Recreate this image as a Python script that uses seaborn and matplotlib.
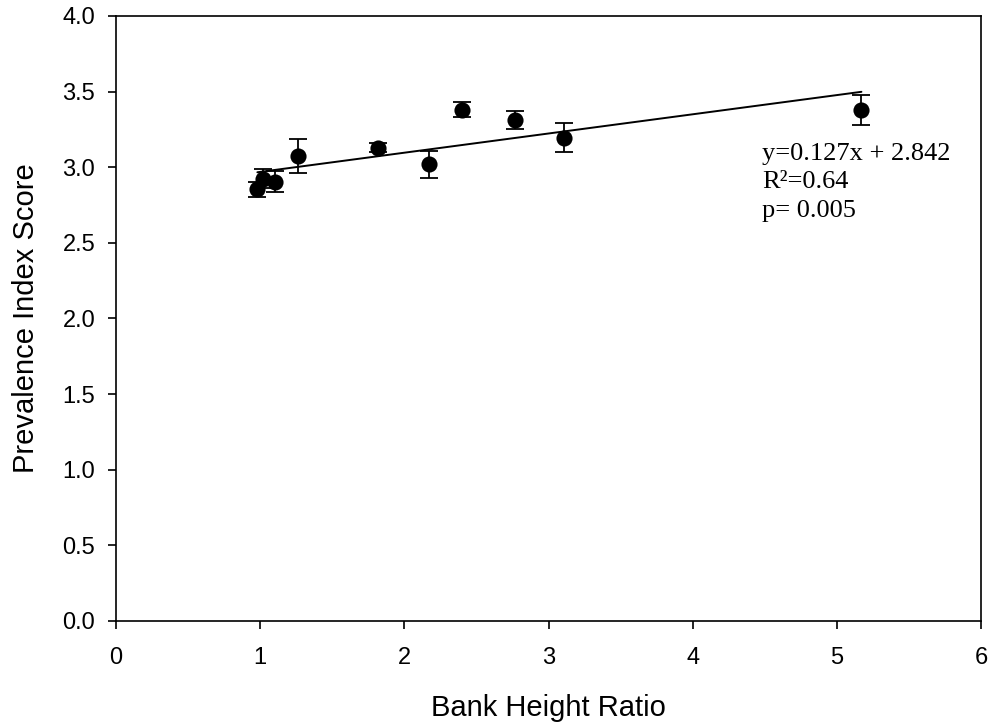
import matplotlib
matplotlib.use("Agg")
import matplotlib.pyplot as plt
import numpy as np
import pandas as pd
import seaborn as sns

# Bank height ratio vs. prevalence index (mean ± SE)
bank_height_ratio = [0.98, 1.02, 1.10, 1.26, 1.815, 2.17, 2.40, 2.77, 3.11, 5.17]
prevalence_index = [2.855, 2.925, 2.905, 3.075, 3.13, 3.02, 3.38, 3.31, 3.195, 3.38]
std_error = [0.05, 0.06, 0.07, 0.11, 0.03, 0.09, 0.05, 0.06, 0.095, 0.10]

# Linear fit reported on the chart
slope = 0.127
intercept = 2.842
r_squared = "0.64"
p_value = "0.005"

x_ticks = [0, 1, 2, 3, 4, 5, 6]
y_ticks = [0.0, 0.5, 1.0, 1.5, 2.0, 2.5, 3.0, 3.5, 4.0]

df = pd.DataFrame({"bhr": bank_height_ratio, "pi": prevalence_index, "se": std_error})

sns.set_theme(style="ticks")
plt.rcParams["font.family"] = ["Liberation Sans", "DejaVu Sans"]
plt.rcParams["axes.linewidth"] = 1.2
plt.rcParams["text.color"] = "black"
plt.rcParams["axes.labelcolor"] = "black"

fig = plt.figure(figsize=(9.92, 7.27), dpi=100)
ax = fig.add_axes([0.117, 0.146, 0.872, 0.832])

# fitted line over the observed range
fit_x = np.array([min(bank_height_ratio), max(bank_height_ratio)])
fit = pd.DataFrame({"x": fit_x, "y": slope * fit_x + intercept})
sns.lineplot(data=fit, x="x", y="y", ax=ax, color="black", linewidth=1.4, zorder=2)

ax.errorbar(df["bhr"], df["pi"], yerr=df["se"], fmt="none", ecolor="black",
            elinewidth=1.3, capsize=6.5, capthick=1.3, zorder=3)
sns.scatterplot(data=df, x="bhr", y="pi", ax=ax, color="black", s=135,
                edgecolor="black", linewidth=0, zorder=4)

ax.set_xlim(0, 6)
ax.set_ylim(0, 4)
ax.set_xticks(x_ticks)
ax.set_xticklabels([str(t) for t in x_ticks])
ax.set_yticks(y_ticks)
ax.set_yticklabels([f"{t:.1f}" for t in y_ticks])
ax.tick_params(axis="both", direction="out", length=6, width=1.2, labelsize=17,
               colors="black", pad=9)
ax.tick_params(axis="x", pad=13)
for side in ["top", "right", "left", "bottom"]:
    ax.spines[side].set_visible(True)
    ax.spines[side].set_color("black")

ax.set_xlabel("Bank Height Ratio", fontsize=21, labelpad=18)
ax.set_ylabel("Prevalence Index Score", fontsize=21, labelpad=16)

serif = ["Liberation Serif", "DejaVu Serif"]
tx = 4.48
ax.text(tx, 3.05, f"y={slope:.3f}x + {intercept:.3f}", family=serif, fontsize=19,
        ha="left", va="baseline", color="black")
ax.text(tx, 2.86, f"R\u00b2={r_squared}", family=serif, fontsize=19,
        ha="left", va="baseline", color="black")
ax.text(tx, 2.67, f"p= {p_value}", family=serif, fontsize=19,
        ha="left", va="baseline", color="black")

fig.savefig("out.png", dpi=100)
